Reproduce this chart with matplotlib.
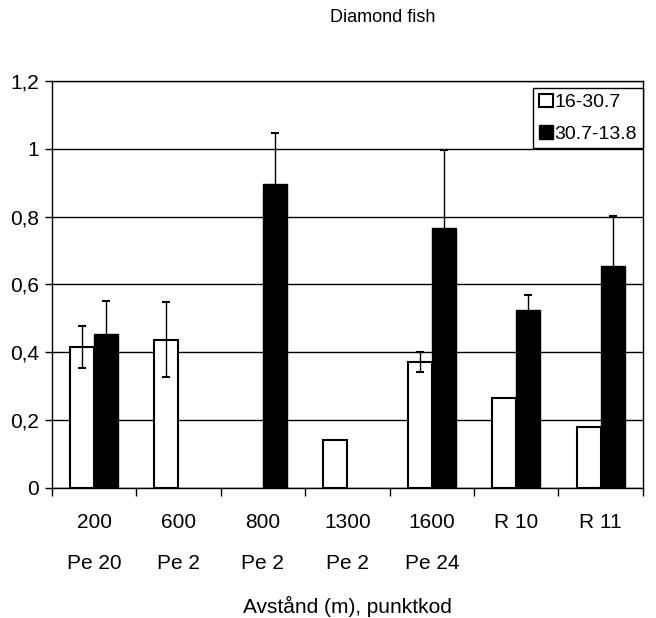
import numpy as np
import matplotlib.pyplot as plt

plt.rcParams['font.family'] = ['Liberation Sans', 'DejaVu Sans']

# station labels: distance (m) and point code
distances = ["200", "600", "800", "1300", "1600", "R 10", "R 11"]
codes = ["Pe 20", "Pe 2", "Pe 2", "Pe 2", "Pe 24", "", ""]

# mean values per period, nan where nothing was caught
early = [0.416, 0.437, np.nan, 0.14, 0.372, 0.265, 0.18]
early_err = [0.063, 0.11, np.nan, np.nan, 0.03, np.nan, np.nan]
late = [0.454, np.nan, 0.897, np.nan, 0.767, 0.525, 0.655]
late_err = [0.096, np.nan, 0.15, np.nan, 0.23, 0.045, 0.148]

labels = [d + "\n" + c for d, c in zip(distances, codes)]
x = np.arange(len(distances))
w = 0.284

fig = plt.figure(figsize=(6.56, 6.18), dpi=100)
ax = fig.add_axes([0.079, 0.2104, 0.901, 0.6586])

ax.set_axisbelow(True)
ax.grid(axis='y', color='black', linewidth=1.0)

ax.bar(x - w/2, early, w, color='white', edgecolor='black', linewidth=1.5,
       label='16-30.7', zorder=2)
ax.bar(x + w/2, late, w, color='black', edgecolor='black', linewidth=1.0,
       label='30.7-13.8', zorder=2)

def draw_err(xs, ys, es):
    ys = np.array(ys); es = np.array(es)
    ok = ~np.isnan(es)
    ax.errorbar(xs[ok], ys[ok], yerr=es[ok], fmt='none', ecolor='black',
                elinewidth=1.0, capsize=3, capthick=1.5, zorder=3)

draw_err(x - w/2, early, early_err)
draw_err(x + w/2, late, late_err)

ax.set_xlim(-0.5, len(x) - 0.5)
ax.set_ylim(0, 1.2)
yt = np.arange(0, 1.21, 0.2)
ax.set_yticks(yt)
ax.set_yticklabels([f"{v:g}".replace('.', ',') for v in np.round(yt, 1)], fontsize=15)
ax.tick_params(axis='y', length=5, width=1, direction='out', pad=4)

# category labels sit at bar groups, tick marks at group boundaries
ax.set_xticks(x)
ax.set_xticklabels(labels, fontsize=15, linespacing=2.5)
ax.tick_params(axis='x', which='major', length=0, pad=18)
ax.set_xticks(np.arange(-0.5, len(x), 1.0), minor=True)
ax.tick_params(axis='x', which='minor', length=6, width=1, direction='out')

for s in ax.spines.values():
    s.set_color('black')
    s.set_linewidth(1.0)

ax.set_xlabel("Avstånd (m), punktkod", fontsize=15, labelpad=16)

leg = ax.legend(loc='upper right', bbox_to_anchor=(1.0, 0.983), borderaxespad=0,
                fontsize=14, frameon=True, fancybox=False, handlelength=0.7,
                handleheight=0.7, handletextpad=0.1, borderpad=0.3,
                labelspacing=0.7)
leg.get_frame().set_edgecolor('black')
leg.get_frame().set_linewidth(1.0)
leg.get_frame().set_alpha(1)

fig.text(383/656, 1 - 18/618, "Diamond fish", ha='center', va='center', fontsize=13)

fig.savefig("out.png", dpi=100)
